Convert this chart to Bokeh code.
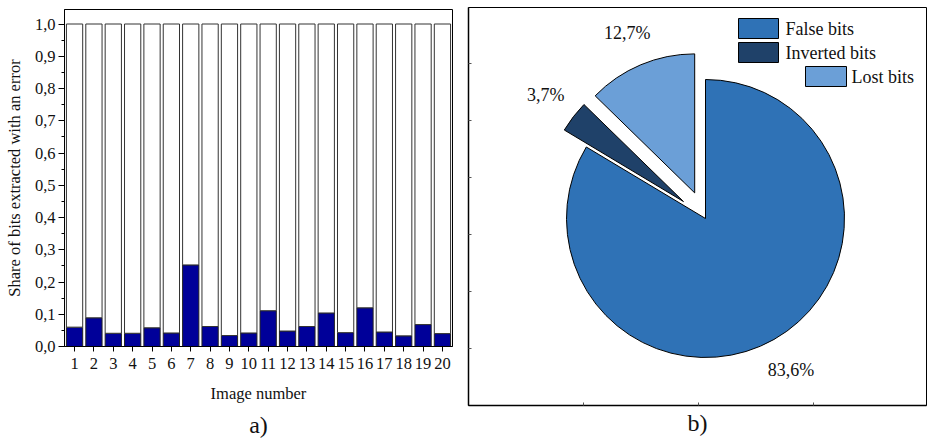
import math
from bokeh.plotting import figure
from bokeh.layouts import row, column
from bokeh.models import FixedTicker, CustomJSTickFormatter, Title
from bokeh.core.properties import value
from bokeh.embed import file_html
from bokeh.resources import INLINE

# ---- data ----
images = list(range(1, 21))
error_share = [0.060, 0.089, 0.041, 0.041, 0.058, 0.042, 0.253, 0.062, 0.034, 0.042,
               0.111, 0.048, 0.062, 0.104, 0.043, 0.120, 0.045, 0.033, 0.068, 0.040]
total_share = [1.0] * 20
y_ticks = [0.0, 0.1, 0.2, 0.3, 0.4, 0.5, 0.6, 0.7, 0.8, 0.9, 1.0]

pie_labels = ["False bits", "Inverted bits", "Lost bits"]
pie_values = [83.6, 3.7, 12.7]
pie_text = ["83,6%", "3,7%", "12,7%"]
pie_explode = [0.0, 0.2, 0.2]
pie_colors = ["#2F72B6", "#1F4169", "#6B9FD7"]

FONT = "Liberation Serif"

# ---- left: stacked bars ----
p1 = figure(width=460, height=441, x_range=(0.48, 20.52), y_range=(0, 1.045),
            output_backend="svg", toolbar_location=None,
            min_border_left=64, min_border_right=8, min_border_top=9, min_border_bottom=95)
p1.vbar(x=images, bottom=0, top=error_share, width=0.84,
        fill_color="#000099", line_color="#222222", line_width=1)
p1.vbar(x=images, bottom=error_share, top=total_share, width=0.84,
        fill_color="white", line_color="#333333", line_width=1)

p1.xgrid.visible = False
p1.ygrid.visible = False
p1.outline_line_color = "black"
p1.outline_line_width = 1

p1.yaxis.ticker = FixedTicker(ticks=y_ticks,
                              minor_ticks=[0.05 + 0.1 * i for i in range(10)])
p1.yaxis.formatter = CustomJSTickFormatter(code="return tick.toFixed(1).replace('.', ',');")
p1.xaxis.ticker = FixedTicker(ticks=images, minor_ticks=[])
for ax in (p1.xaxis[0], p1.yaxis[0]):
    ax.major_label_text_font = FONT
    ax.major_label_text_font_size = "16.5px"
    ax.major_label_text_color = "#111111"
    ax.axis_label_text_font = FONT
    ax.axis_label_text_font_size = "16.5px"
    ax.axis_label_text_font_style = "normal"
    ax.axis_label_text_color = "#111111"
    ax.axis_line_color = "black"
    ax.major_tick_line_color = "black"
    ax.minor_tick_line_color = "black"
    ax.major_tick_in = 0
    ax.minor_tick_in = 0
p1.yaxis.major_tick_out = 6
p1.yaxis.minor_tick_out = 3
p1.xaxis.major_tick_out = 5
p1.yaxis.axis_label = "Share of bits extracted with an error"
p1.xaxis.axis_label = "Image number"
p1.yaxis.major_label_standoff = 3
p1.yaxis.axis_label_standoff = 8
p1.xaxis.major_label_standoff = 6
p1.xaxis.axis_label_standoff = 12
p1.add_layout(Title(text="a)", align="center", text_font=FONT, text_font_size="24px",
                    text_font_style="normal", text_color="#111111", standoff=8), "below")

# ---- right: exploded pie ----
W, H = 458, 398
p2 = figure(width=468, height=441, x_range=(0, W), y_range=(0, H),
            output_backend="svg", toolbar_location=None,
            min_border_left=8, min_border_right=2, min_border_top=7, min_border_bottom=36)
p2.xgrid.visible = False
p2.ygrid.visible = False
p2.outline_line_color = "black"

cx, cy, R = 237, 187, 139
total = sum(pie_values)
cum = 0.0
for lab, v, txt, ex, col in zip(pie_labels, pie_values, pie_text, pie_explode, pie_colors):
    start = math.radians(90 - 360 * cum / total)
    end = math.radians(90 - 360 * (cum + v) / total)
    mid = (start + end) / 2
    ox = cx + ex * R * math.cos(mid)
    oy = cy + ex * R * math.sin(mid)
    p2.wedge(x=[ox], y=[oy], radius=R, radius_units="screen",
             start_angle=start, end_angle=end, direction="clock",
             fill_color=col, line_color="black", line_width=1)
    lr = R * 1.25 + ex * R
    p2.text(x=[cx + lr * math.cos(mid)], y=[cy + lr * math.sin(mid)], text=[txt],
            text_font=value(FONT), text_font_size="18px", text_color="#111111",
            text_align="center", text_baseline="middle")
    cum += v

# legend (manual, matching the reference placement)
leg_boxes = [(270, 310, 367, 387), (270, 310, 343, 363), (337, 378, 319, 339)]
leg_text_xy = [(317, 377), (317, 353), (383, 329)]
for (l, r_, b, t), (tx, ty), lab, col in zip(leg_boxes, leg_text_xy, pie_labels, pie_colors):
    p2.quad(left=[l], right=[r_], bottom=[b], top=[t], fill_color=col,
            line_color="black", line_width=1)
    p2.text(x=[tx], y=[ty], text=[lab], text_font=value(FONT), text_font_size="18px",
            text_color="#111111", text_align="left", text_baseline="middle")

p2.yaxis.ticker = FixedTicker(ticks=[57, 114, 171, 228, 285, 342], minor_ticks=[])
p2.xaxis.ticker = FixedTicker(ticks=[115, 230, 345], minor_ticks=[])
for ax in (p2.xaxis[0], p2.yaxis[0]):
    ax.formatter = CustomJSTickFormatter(code="return '';")
    ax.major_label_standoff = 0
    ax.major_tick_in = 3
    ax.major_tick_out = 0
    ax.major_tick_line_color = "#555555"
    ax.axis_line_color = "black"
    ax.axis_line_width = 1.5
p2.add_layout(Title(text="b)", align="center", text_font=FONT, text_font_size="24px",
                    text_font_style="normal", text_color="#111111", standoff=4), "below")

layout = row(column(p1), column(p2), spacing=0)
open("out.html", "w").write(file_html(layout, INLINE))
